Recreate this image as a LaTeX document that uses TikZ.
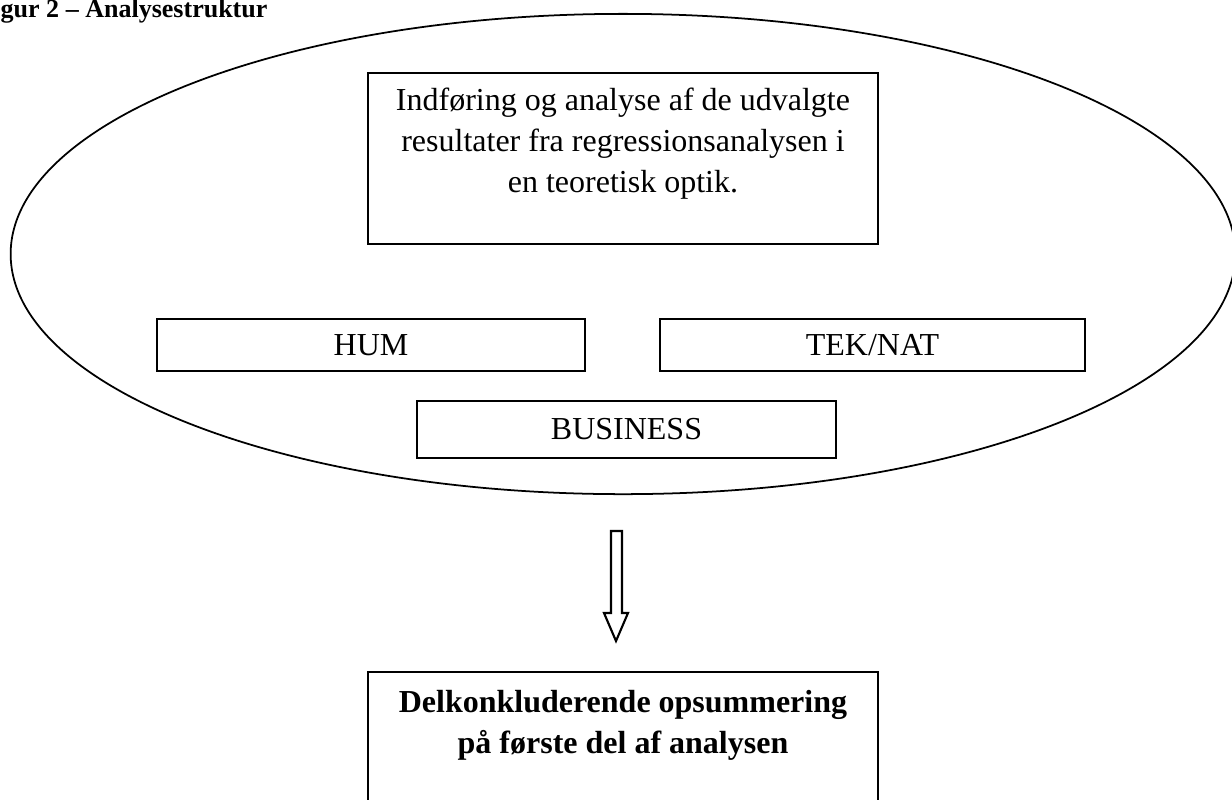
\documentclass[tikz,border=0pt]{standalone}
\usepackage{fontspec}
\setmainfont{Liberation Serif}
\usetikzlibrary{positioning,shapes.geometric}

\begin{document}
\begin{tikzpicture}[x=0.01cm,y=-0.01cm,
    box/.style={draw,line width=0.6pt,rectangle,inner sep=0pt,
      font=\fontsize{9.1}{11.6}\selectfont},
    boxtext/.style={align=center,inner sep=0pt,
      font=\fontsize{9.1}{11.6}\selectfont}]
  \useasboundingbox (0,0) rectangle (1232,799);
  \node[anchor=base west,inner sep=0pt,font=\bfseries\fontsize{7.4}{9}\selectfont] (title) at (0,17) {gur 2 – Analysestruktur};
  % Ellipse om analysen
  \node[draw,ellipse,line width=0.5pt,minimum width=12.24cm,minimum height=4.8cm,inner sep=0pt] (frame) at (623,254) {};
  \node[box,minimum width=5.1cm,minimum height=1.71cm] (intro) at (623,158.5) {};
  \node[boxtext,below=0.155cm of intro.north] (introtext) {Indføring og analyse af de udvalgte\\resultater fra regressionsanalysen i\\en teoretisk optik.};
  \node[box,minimum width=4.28cm,minimum height=0.52cm] (hum) at (371,345) {HUM};
  \node[box,minimum width=4.25cm,minimum height=0.52cm] (teknat) at (872.5,345) {TEK/NAT};
  \node[box,minimum width=4.19cm,minimum height=0.57cm] (business) at (626.5,429.5) {BUSINESS};
  % Pil ned
  \draw[line width=0.6pt] (611,531) -- (622,531) -- (622,613) -- (628,613) -- (616,641)
    -- (604,613) -- (611,613) -- cycle;
  \node[box,minimum width=5.1cm,minimum height=1.6cm] (summary) at (623,752) {};
  \node[boxtext,font=\bfseries\fontsize{9.1}{11.6}\selectfont,below=0.19cm of summary.north] (summarytext) {Delkonkluderende opsummering\\på første del af analysen};
\end{tikzpicture}
\end{document}
